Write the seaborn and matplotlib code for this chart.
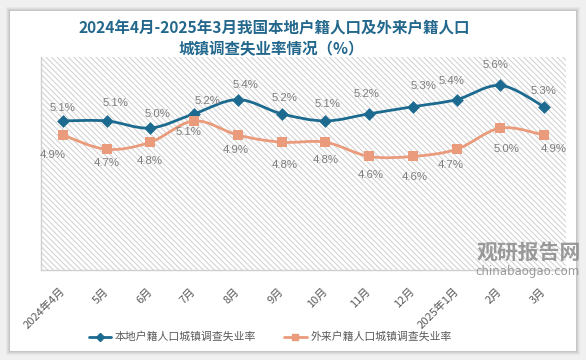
import matplotlib
matplotlib.use("Agg")
import matplotlib.pyplot as plt
import seaborn as sns
import pandas as pd
import numpy as np
from matplotlib.path import Path
from matplotlib.patches import PathPatch, Rectangle, Arc

# months on the x axis
months = ['2024年4月', '5月', '6月', '7月', '8月', '9月', '10月', '11月', '12月',
          '2025年1月', '2月', '3月']
# local household registration unemployment rate (%)
local_rate = [5.1, 5.1, 5.0, 5.2, 5.4, 5.2, 5.1, 5.2, 5.3, 5.4, 5.6, 5.3]
# migrant household registration unemployment rate (%)
migrant_rate = [4.9, 4.7, 4.8, 5.1, 4.9, 4.8, 4.8, 4.6, 4.6, 4.7, 5.0, 4.9]

local_name = '本地户籍人口城镇调查失业率'
migrant_name = '外来户籍人口城镇调查失业率'

# label nudges in pixels (the original chart shifts some labels to avoid overlap)
local_dx = [0, 9, 7, 13, 8, 3, 2, -3, 11, -5, -5, -1]
local_dy = [13, 18, 14, 13, 15, 16, 17, 20, 21, 19, 20, 16]
migrant_dx = [-10, 0, -1, -6, -2, 3, 0, 2, 2, -6, 6, 10]
migrant_dy = [-20, -14, -19, -11, -15, -23, -18, -19, -21, -16, -21, -14]

BLUE = '#1c6a8f'
ORANGE = '#e99b7b'
GRAY = '#7f7f7f'
DARK = '#595959'

sns.set_theme(style='white')
plt.rcParams['font.family'] = ['Noto Sans CJK SC', 'DejaVu Sans']
plt.rcParams['hatch.color'] = '#cfcfcf'
plt.rcParams['hatch.linewidth'] = 0.7

df = pd.DataFrame({'month': months, 'x': range(len(months)),
                   local_name: local_rate, migrant_name: migrant_rate})

W, H = 586, 360
fig = plt.figure(figsize=(W / 100, H / 100), dpi=100)
fig.patch.set_facecolor('#f0f0f0')

# card with a soft shadow
for i, a in enumerate([0.03, 0.04, 0.05, 0.06]):
    g = 4 - i
    fig.patches.append(Rectangle(((10 - g) / W, 1 - (351 + g) / H), (566 + 2 * g) / W,
                                 (340 + 2 * g) / H, transform=fig.transFigure,
                                 facecolor='black', alpha=a, edgecolor='none', zorder=0))
fig.patches.append(Rectangle((10 / W, 1 - 351 / H), 566 / W, 340 / H,
                             transform=fig.transFigure, facecolor='white',
                             edgecolor='none', zorder=1))

ax = fig.add_axes([41 / W, 1 - 270 / H, 525 / W, 213 / H])
ax.set_zorder(2)
ax.patch.set_facecolor('white')
ax.patch.set_hatch('\\\\\\\\\\\\')
ax.patch.set_edgecolor('#cfcfcf')
ax.patch.set_linewidth(0)


def smooth_path(xs, ys, t=1 / 6):
    verts = [(xs[0], ys[0])]
    codes = [Path.MOVETO]
    n = len(xs)
    for i in range(n - 1):
        x0, y0 = xs[max(i - 1, 0)], ys[max(i - 1, 0)]
        x1, y1 = xs[i], ys[i]
        x2, y2 = xs[i + 1], ys[i + 1]
        x3, y3 = xs[min(i + 2, n - 1)], ys[min(i + 2, n - 1)]
        c1 = (x1 + (x2 - x0) * t, y1 + (y2 - y0) * t)
        c2 = (x2 - (x3 - x1) * t, y2 - (y3 - y1) * t)
        verts += [c1, c2, (x2, y2)]
        codes += [Path.CURVE4] * 3
    return Path(verts, codes)


for col, color, marker, ms in [(local_name, BLUE, 'D', 6.5), (migrant_name, ORANGE, 's', 7)]:
    ax.add_patch(PathPatch(smooth_path(list(df['x']), list(df[col])), facecolor='none',
                           edgecolor=color, lw=2.0, zorder=3))
    sns.scatterplot(data=df, x='x', y=col, marker=marker, color=color, s=ms ** 2,
                    edgecolor=color, linewidth=0, ax=ax, zorder=4, legend=False)

for i in range(len(months)):
    ax.annotate(f'{local_rate[i]:.1f}%', (i, local_rate[i]),
                xytext=(local_dx[i], local_dy[i]), textcoords='offset pixels',
                ha='center', va='center', fontsize=8.2, color=GRAY, family=['Liberation Sans', 'DejaVu Sans'])
    ax.annotate(f'{migrant_rate[i]:.1f}%', (i, migrant_rate[i]),
                xytext=(migrant_dx[i], migrant_dy[i]), textcoords='offset pixels',
                ha='center', va='center', fontsize=8.2, color=GRAY, family=['Liberation Sans', 'DejaVu Sans'])

ax.set_xlim(-0.5, len(months) - 0.5)
ax.set_ylim(3.0, 6.0)
ax.set_yticks([])
ax.set_xticks(range(len(months)))
ax.set_xticklabels(months, rotation=45, ha='right', va='center', rotation_mode='anchor',
                   fontsize=8, color=DARK)
ax.tick_params(axis='x', length=0, pad=14)
ax.set_xlabel('')
ax.set_ylabel('')
for s in ['top', 'right']:
    ax.spines[s].set_visible(False)
for s in ['left', 'bottom']:
    ax.spines[s].set_color('#d0d0d0')
    ax.spines[s].set_linewidth(1)

# title
fig.text(274 / W, 1 - 28 / H, '2024年4月-2025年3月我国本地户籍人口及外来户籍人口',
         ha='center', va='center', fontsize=11.2, fontweight='bold', color='#23688c', zorder=5)
fig.text(271 / W, 1 - 49 / H, '城镇调查失业率情况（%）',
         ha='center', va='center', fontsize=11.2, fontweight='bold', color='#23688c', zorder=5)

# legend
h1 = plt.Line2D([], [], color=BLUE, lw=2, marker='D', ms=4)
h2 = plt.Line2D([], [], color=ORANGE, lw=2, marker='s', ms=4.5)
fig.legend([h1, h2], [local_name, migrant_name], loc='center', bbox_to_anchor=(270 / W, 1 - 337 / H),
           ncol=2, frameon=False, fontsize=7.8, labelcolor=DARK, handlelength=2.1,
           handletextpad=0.3, columnspacing=2.6)

# watermark
wm = fig.add_axes([438 / W, 1 - 282 / H, 40 / W, 40 / H])
wm.set_axis_off()
wm.set_xlim(-1, 1)
wm.set_ylim(-1, 1)
wm.add_patch(Arc((0.1, -0.05), 1.6, 1.1, theta1=80, theta2=250, lw=4, color='#9a9a9a', alpha=0.6))
wm.add_patch(Arc((0.2, 0.0), 1.0, 0.7, theta1=200, theta2=20, lw=3, color='#9a9a9a', alpha=0.6))
fig.text(529 / W, 1 - 252 / H, '观研报告网', ha='center', va='center', fontsize=15,
         fontweight='bold', color='#8a8a8a', alpha=0.85, zorder=6)
fig.text(527 / W, 1 - 271 / H, 'chinabaogao.com', ha='center', va='center', fontsize=8.5,
         color='#8a8a8a', alpha=0.85, zorder=6, family=['DejaVu Sans'])

fig.savefig('out.png', dpi=100, facecolor=fig.get_facecolor())
